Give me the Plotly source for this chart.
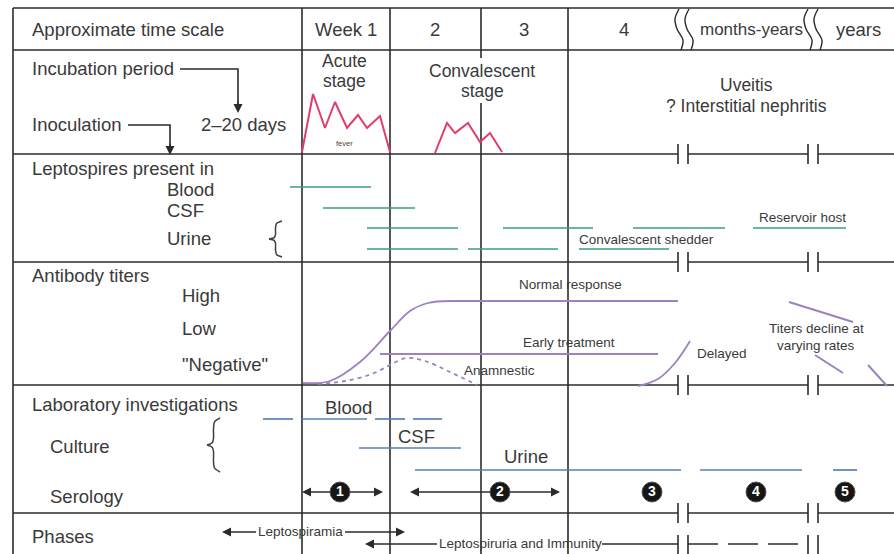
import plotly.graph_objects as go

W, H = 894, 554
LINE = "#2b2b2b"
TEXT = "#3a3a3a"
RED = "#e23c68"
GREEN = "#3a9f76"
PURPLE = "#9c82bf"
BLUE = "#5b7fb3"
FONT = "Liberation Sans"
MAIN = 18.5
SMALL = 13.5

# ---------------- data (chart units) ----------------
row_bounds_y = [8, 50, 154, 262, 385, 513]
broken_rows_y = [154, 262, 385, 513]
week_cols_x = [302, 390, 568]
week3_col_x = 481
frame_left_x = 13
frame_right_x = 894
bottom_y = 554
break_x = [678, 688, 808, 818]

time_labels = ["Week 1", "2", "3", "4", "months-years", "years"]
time_label_x = [346, 435, 524, 624, 751, 858]

fever_acute_x = [302, 313, 325, 335, 347, 358, 367, 380, 390]
fever_acute_y = [152, 94, 128, 102, 128, 115, 128, 116, 152]
fever_conv_x = [435, 447, 455, 468, 480, 490, 502]
fever_conv_y = [153, 123, 133, 123, 142, 133, 152]

lepto_blood = [(290, 371)]
lepto_csf = [(323, 415)]
lepto_urine_upper = [(367, 458), (503, 593), (633, 725), (753, 846)]
lepto_urine_lower = [(367, 458), (468, 558), (579, 669)]

normal_curve_x = [303, 330, 360, 390, 410, 428, 450]
normal_curve_y = [383, 381, 362, 331, 311, 303, 301]
normal_plateau = (450, 678)
early_treatment = (380, 658)
anamnestic_x = [318, 345, 372, 392, 406, 425, 450, 477]
anamnestic_y = [384, 381, 374, 364, 358, 361, 372, 385]
delayed_x = [638, 658, 675, 690]
delayed_y = [386, 379, 363, 341]
decline_segments = [((789, 302), (853, 322)), ((815, 355), (843, 373)), ((868, 365), (887, 386))]

culture_blood = [(263, 293), (302, 367), (375, 405), (413, 442)]
culture_csf = [(359, 461)]
culture_urine = [(415, 681), (700, 802), (833, 857)]
serology_arrows = [(302, 383), (410, 560)]
phase_labels = ["1", "2", "3", "4", "5"]
phase_label_x = [340, 500, 652, 756, 845]

leptospiremia_span = (222, 405)
leptospiruria_span = (365, 678)
leptospiruria_dashed = (688, 808)

# ---------------- helpers ----------------
fig = go.Figure()


def hsegs(pairs, y):
    xs, ys = [], []
    for a, b in pairs:
        xs += [a, b, None]
        ys += [y, y, None]
    return xs, ys


def vsegs(x, pairs):
    xs, ys = [], []
    for a, b in pairs:
        xs += [x, x, None]
        ys += [a, b, None]
    return xs, ys


def add_line(xs, ys, color=LINE, width=1.6, dash=None, shape="linear", smoothing=1.0):
    fig.add_trace(go.Scatter(x=xs, y=ys, mode="lines", hoverinfo="skip",
                             line=dict(color=color, width=width, dash=dash, shape=shape, smoothing=smoothing),
                             showlegend=False))


def text(x, y, s, size=MAIN, anchor="left", color=TEXT):
    fig.add_annotation(x=x, y=y, text=s, showarrow=False, xanchor=anchor, yanchor="middle",
                       font=dict(family=FONT, size=size, color=color), align="center")


def arrowhead(tip, tail, width=1.5):
    fig.add_annotation(x=tip[0], y=tip[1], ax=tail[0], ay=tail[1], axref="x", ayref="y",
                       xref="x", yref="y", text="", showarrow=True, arrowhead=2,
                       arrowsize=1.2, arrowwidth=width, arrowcolor=LINE)


def brace(x, top, bot, w):
    mid = (top + bot) / 2
    h = bot - top
    c = x + w * 0.5
    up_x = [x + w, c + w * 0.08, c, c, c - w * 0.1, x]
    up_y = [top, top + h * 0.07, top + h * 0.2, mid - h * 0.12, mid - h * 0.04, mid]
    add_line(up_x, up_y, color="#404040", width=1.5, shape="spline", smoothing=0.8)
    add_line(up_x, [2 * mid - v for v in up_y], color="#404040", width=1.5, shape="spline", smoothing=0.8)


# ---------------- grid ----------------
gx, gy = [], []
for y in row_bounds_y:
    if y in broken_rows_y:
        pairs = [(frame_left_x, break_x[0]), (break_x[1], break_x[2]), (break_x[3], frame_right_x)]
    else:
        pairs = [(frame_left_x, frame_right_x)]
    a, b = hsegs(pairs, y)
    gx += a; gy += b
for x in [frame_left_x] + week_cols_x:
    a, b = vsegs(x, [(row_bounds_y[0], bottom_y)])
    gx += a; gy += b
a, b = vsegs(week3_col_x, [(row_bounds_y[0], 58), (103, bottom_y)])
gx += a; gy += b
for y in broken_rows_y:
    for bx in break_x:
        a, b = vsegs(bx, [(y - 10, y + 10)])
        gx += a; gy += b
for bx in break_x:
    a, b = vsegs(bx, [(535, bottom_y)])
    gx += a; gy += b
add_line(gx, gy, width=1.6)

# wavy break marks in time-scale row
wave_dx = [1, -3, -1, 5, 3]
wave_y = [9, 19, 29, 40, 50]
for base in [678, 688, 807, 817]:
    add_line([base + d for d in wave_dx], wave_y, width=1.4, shape="spline")

# ---------------- time scale row ----------------
text(30, 29, "Approximate time scale")
for lab, x in zip(time_labels, time_label_x):
    text(x, 29, lab, anchor="center", size=17 if lab == "months-years" else MAIN)

# ---------------- incubation row ----------------
text(30, 68, "Incubation period")
text(30, 124, "Inoculation")
text(199, 124, "2–20 days")
add_line([180, 238, 238], [69, 69, 104])
arrowhead((238, 113), (238, 100))
add_line([128, 170, 170], [125, 125, 146])
arrowhead((170, 155), (170, 142))
STACK = 17.5
text(344, 61, "Acute", anchor="center", size=STACK)
text(344, 81, "stage", anchor="center", size=STACK)
text(344, 143, "fever", size=7.5, anchor="center", color="#5a4030")
text(482, 71, "Convalescent", anchor="center", size=STACK)
text(482, 91, "stage", anchor="center", size=STACK)
text(746, 85, "Uveitis", anchor="center", size=STACK)
text(746, 106, "? Interstitial nephritis", anchor="center", size=STACK)
add_line(fever_acute_x, fever_acute_y, color=RED, width=2)
add_line(fever_conv_x, fever_conv_y, color=RED, width=2)

# ---------------- leptospires row ----------------
text(30, 168, "Leptospires present in")
text(165, 189, "Blood")
text(165, 210, "CSF")
text(165, 238, "Urine")
for pairs, y in [(lepto_blood, 187), (lepto_csf, 208), (lepto_urine_upper, 228), (lepto_urine_lower, 249)]:
    a, b = hsegs(pairs, y)
    add_line(a, b, color=GREEN, width=1.7)
text(577, 239, "Convalescent shedder", size=SMALL)
text(757, 217, "Reservoir host", size=SMALL)

brace(269, 221, 257, 13)
brace(207, 418, 472, 13)

# ---------------- antibody row ----------------
text(30, 275, "Antibody titers")
text(180, 295, "High")
text(180, 328, "Low")
text(180, 364, "\"Negative\"")
add_line(normal_curve_x, normal_curve_y, color=PURPLE, width=1.8, shape="spline")
add_line(list(normal_plateau), [301, 301], color=PURPLE, width=1.8)
add_line(list(early_treatment), [354, 354], color=PURPLE, width=1.8)
add_line(anamnestic_x, anamnestic_y, color=PURPLE, width=1.8, dash="4px,4px", shape="spline")
add_line(delayed_x, delayed_y, color=PURPLE, width=1.8, shape="spline")
for (x0, y0), (x1, y1) in decline_segments:
    add_line([x0, x1], [y0, y1], color=PURPLE, width=2)
text(570, 284, "Normal response", size=SMALL, anchor="center")
text(569, 342, "Early treatment", size=SMALL, anchor="center")
text(462, 370, "Anamnestic", size=SMALL)
text(695, 353, "Delayed", size=SMALL)
text(816, 328, "Titers decline at", size=SMALL, anchor="center")
text(816, 345, "varying rates", size=SMALL, anchor="center")

# ---------------- laboratory row ----------------
text(30, 404, "Laboratory investigations")
text(48, 446, "Culture")
text(48, 496, "Serology")
for pairs, y in [(culture_blood, 419), (culture_csf, 448), (culture_urine, 470)]:
    a, b = hsegs(pairs, y)
    add_line(a, b, color=BLUE, width=1.7)
text(348, 407, "Blood", anchor="center")
text(416, 436, "CSF", anchor="center")
text(526, 456, "Urine", anchor="center")
for a0, b0 in serology_arrows:
    add_line([a0 + 6, b0 - 6], [492, 492], width=1.5)
    arrowhead((a0, 492), (a0 + 10, 492))
    arrowhead((b0, 492), (b0 - 10, 492))
fig.add_trace(go.Scatter(x=phase_label_x, y=[492] * len(phase_label_x), mode="markers+text",
                         text=["<b>%s</b>" % s for s in phase_labels], textposition="middle center",
                         hoverinfo="skip",
                         marker=dict(size=20, color="#161616", line=dict(color="#555555", width=1)),
                         textfont=dict(family=FONT, size=14, color="white"), showlegend=False))

# ---------------- phases row ----------------
text(30, 536, "Phases")
add_line([leptospiremia_span[0] + 6, 256, None, 345, leptospiremia_span[1] - 6], [532, 532, None, 532, 532], width=1.5)
arrowhead((leptospiremia_span[0], 532), (leptospiremia_span[0] + 10, 532))
arrowhead((leptospiremia_span[1], 532), (leptospiremia_span[1] - 10, 532))
text(300, 531, "Leptospiramia", size=SMALL, anchor="center")
add_line([leptospiruria_span[0] + 6, 437, None, 602, leptospiruria_span[1]], [544, 544, None, 544, 544], width=1.5)
arrowhead((leptospiruria_span[0], 544), (leptospiruria_span[0] + 10, 544))
text(520, 543, "Leptospiruria and Immunity", size=SMALL, anchor="center")
add_line(list(leptospiruria_dashed), [544, 544], width=1.5, dash="30px,10px")

fig.update_layout(
    width=W, height=H, margin=dict(l=0, r=0, t=0, b=0, pad=0),
    paper_bgcolor="white", plot_bgcolor="white", showlegend=False,
    xaxis=dict(range=[0, W], visible=False, fixedrange=True),
    yaxis=dict(range=[H, 0], visible=False, fixedrange=True),
)
fig.write_html("out.html", config={"displayModeBar": False},
               post_script="document.body.style.margin='0';document.body.style.overflow='hidden';")
